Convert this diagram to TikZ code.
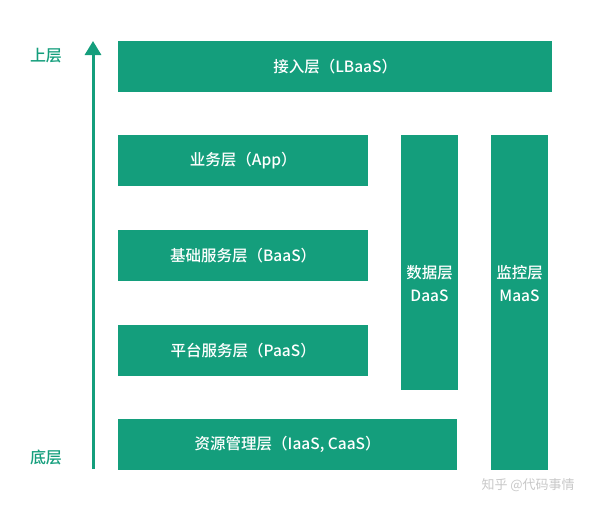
\documentclass[tikz,border=0pt]{standalone}
\usepackage{fontspec}
\setmainfont{Noto Sans CJK SC}[BoldFont={Noto Sans CJK SC Medium}]
\usetikzlibrary{arrows.meta}
\definecolor{lg}{RGB}{20,158,124}
\definecolor{wm}{RGB}{200,200,200}
\tikzset{
  layer/.style={fill=lg, draw=none, inner sep=0pt, anchor=north west},
  ltext/.style={text=white, font=\fontsize{15.5}{23}\selectfont\bfseries, align=center},
  side/.style={text=lg, font=\fontsize{16}{18}\selectfont\bfseries}
}
\begin{document}
\begin{tikzpicture}[x=1pt,y=-1pt]
\useasboundingbox (0,0) rectangle (600,509);
% boxes
\node[layer, minimum width=434pt, minimum height=51pt] (lb) at (118,41) {};
\node[layer, minimum width=250pt, minimum height=51pt] (app) at (118,135) {};
\node[layer, minimum width=250pt, minimum height=51pt] (baas) at (118,230) {};
\node[layer, minimum width=250pt, minimum height=51pt] (paas) at (118,325) {};
\node[layer, minimum width=339pt, minimum height=51pt] (iaas) at (118,419) {};
\node[layer, minimum width=57pt, minimum height=255pt] (daas) at (401,135) {};
\node[layer, minimum width=57pt, minimum height=335pt] (maas) at (491,135) {};
% texts
\node[ltext] (tlb) at (lb.center) {接入层（LBaaS）};
\node[ltext] (tapp) at (app.center) {业务层（App）};
\node[ltext] (tbaas) at (baas.center) {基础服务层（BaaS）};
\node[ltext] (tpaas) at (paas.center) {平台服务层（PaaS）};
\node[ltext] (tiaas) at (iaas.center) {资源管理层（IaaS, CaaS）};
\node[ltext] (tdaas) at (429.5,284) {数据层\\DaaS};
\node[ltext] (tmaas) at (519.5,284) {监控层\\MaaS};
% arrow
\coordinate (abot) at (93,469);
\coordinate (atop) at (93,41);
\draw[lg, line width=3pt, -{Triangle[length=14pt,width=16pt]}] (abot) -- (atop);
\node[side] (up) at (46,56) {上层};
\node[side] (down) at (46,457) {底层};
% watermark
\node[text=wm, font=\fontsize{13}{15}\selectfont, anchor=west] (wmk) at (478,485) {知乎 @代码事情};
\end{tikzpicture}
\end{document}
